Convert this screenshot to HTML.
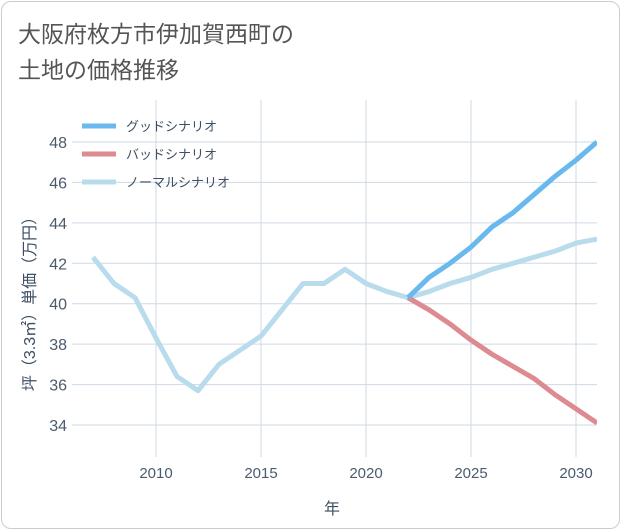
<!DOCTYPE html>
<html><head><meta charset="utf-8">
<style>
body{margin:0;background:#fff;font-family:"Liberation Sans","Noto Sans CJK JP",sans-serif;}
#card{position:absolute;left:1px;top:1px;width:617px;height:526px;border:1px solid #ccc;border-radius:10px;background:#fff;}
</style></head><body>
<div id="card"></div>
<svg id="chart" width="621" height="530" style="position:absolute;left:0;top:0">
<text x="18" y="42" font-size="23" fill="#555" font-family="Liberation Sans, Noto Sans CJK JP, sans-serif">大阪府枚方市伊加賀西町の</text>
<text x="18" y="78" font-size="23" fill="#555" font-family="Liberation Sans, Noto Sans CJK JP, sans-serif">土地の価格推移</text>
<g id="grid"></g><g id="axes"></g><g id="lines"></g>
<text x="332" y="514" font-size="16" fill="#3d4f63" text-anchor="middle" font-family="Liberation Sans, Noto Sans CJK JP, sans-serif">年</text>
<text transform="translate(35,300) rotate(-90)" font-size="16" fill="#3d4f63" text-anchor="middle" font-family="Liberation Sans, Noto Sans CJK JP, sans-serif">坪（3.3㎡）単価（万円）</text>
<g id="legend"></g>
</svg>
<script>
const years=[2007,2008,2009,2010,2011,2012,2013,2014,2015,2016,2017,2018,2019,2020,2021,2022,2023,2024,2025,2026,2027,2028,2029,2030,2031];
const normal=[42.3,41.0,40.3,38.3,36.4,35.7,37.0,37.7,38.4,39.7,41.0,41.0,41.7,41.0,40.6,40.3,40.6,41.0,41.3,41.7,42.0,42.3,42.6,43.0,43.2];
const futureYears=[2022,2023,2024,2025,2026,2027,2028,2029,2030,2031];
const good=[40.3,41.3,42.0,42.8,43.8,44.5,45.4,46.3,47.1,48.0];
const bad=[40.3,39.7,39.0,38.2,37.5,36.9,36.3,35.5,34.8,34.1];
const xTicks=[2010,2015,2020,2025,2030];
const yTicks=[34,36,38,40,42,44,46,48];
const seriesNames=["グッドシナリオ","バッドシナリオ","ノーマルシナリオ"];
const L=72,R=597,T=100,B=457;
const x=v=>156+(v-2010)*21;
const y=v=>142+(48-v)*(283/14);
const NS="http://www.w3.org/2000/svg";
function mk(tag,attrs,parent){const e=document.createElementNS(NS,tag);for(const k in attrs)e.setAttribute(k,attrs[k]);document.getElementById(parent).appendChild(e);return e;}
mk('rect',{x:L,y:T,width:R-L,height:B-T,fill:'#fff'},'grid');
xTicks.forEach(t=>{
 const l=mk('line',{x1:x(t),x2:x(t),y1:T,y2:B,stroke:'#cfd9e3','stroke-width':1},'grid');
 
 
 const tx=mk('text',{x:x(t),y:B+21,'font-size':15,fill:'#4a5b6e','text-anchor':'middle'},'axes');
 tx.textContent=t;
 
 
});
yTicks.forEach(t=>{
 const l=mk('line',{x1:L,x2:R,y1:y(t),y2:y(t),stroke:'#cfd9e3','stroke-width':1},'grid');
 
 
 const tx=mk('text',{x:L-5,y:y(t)+6,'font-size':16,fill:'#4a5b6e','text-anchor':'end'},'axes');
 tx.textContent=t;
 
 
});
function path(xs,vs,color,name){
 const d=xs.map((v,i)=>(i?'L':'M')+x(v)+','+y(vs[i])).join(' ');
 const p=mk('path',{d:d,fill:'none',stroke:color,'stroke-width':5,'stroke-linejoin':'round'},'lines');
 
 
}
const svg=document.getElementById('chart');
const cp=document.createElementNS(NS,'clipPath');cp.setAttribute('id','clip');
const cr=document.createElementNS(NS,'rect');cr.setAttribute('x',L);cr.setAttribute('y',T);cr.setAttribute('width',R-L);cr.setAttribute('height',B-T);
cp.appendChild(cr);svg.appendChild(cp);
document.getElementById('lines').setAttribute('clip-path','url(#clip)');
path(years,normal,'#b9dcec','normal-line');
path(futureYears,bad,'#de8a91','bad-line');
path(futureYears,good,'#69b9ee','good-line');
const colors=['#69b9ee','#de8a91','#b9dcec'];
seriesNames.forEach((n,i)=>{
 const yy=126+i*28;
 const l=mk('line',{x1:82,x2:116,y1:yy,y2:yy,stroke:colors[i],'stroke-width':5},'legend');
 
 
 const t=mk('text',{x:126,y:yy+5,'font-size':13,fill:'#3d4f63'},'legend');
 t.textContent=n;
 
 
});
</script>
</body></html>
